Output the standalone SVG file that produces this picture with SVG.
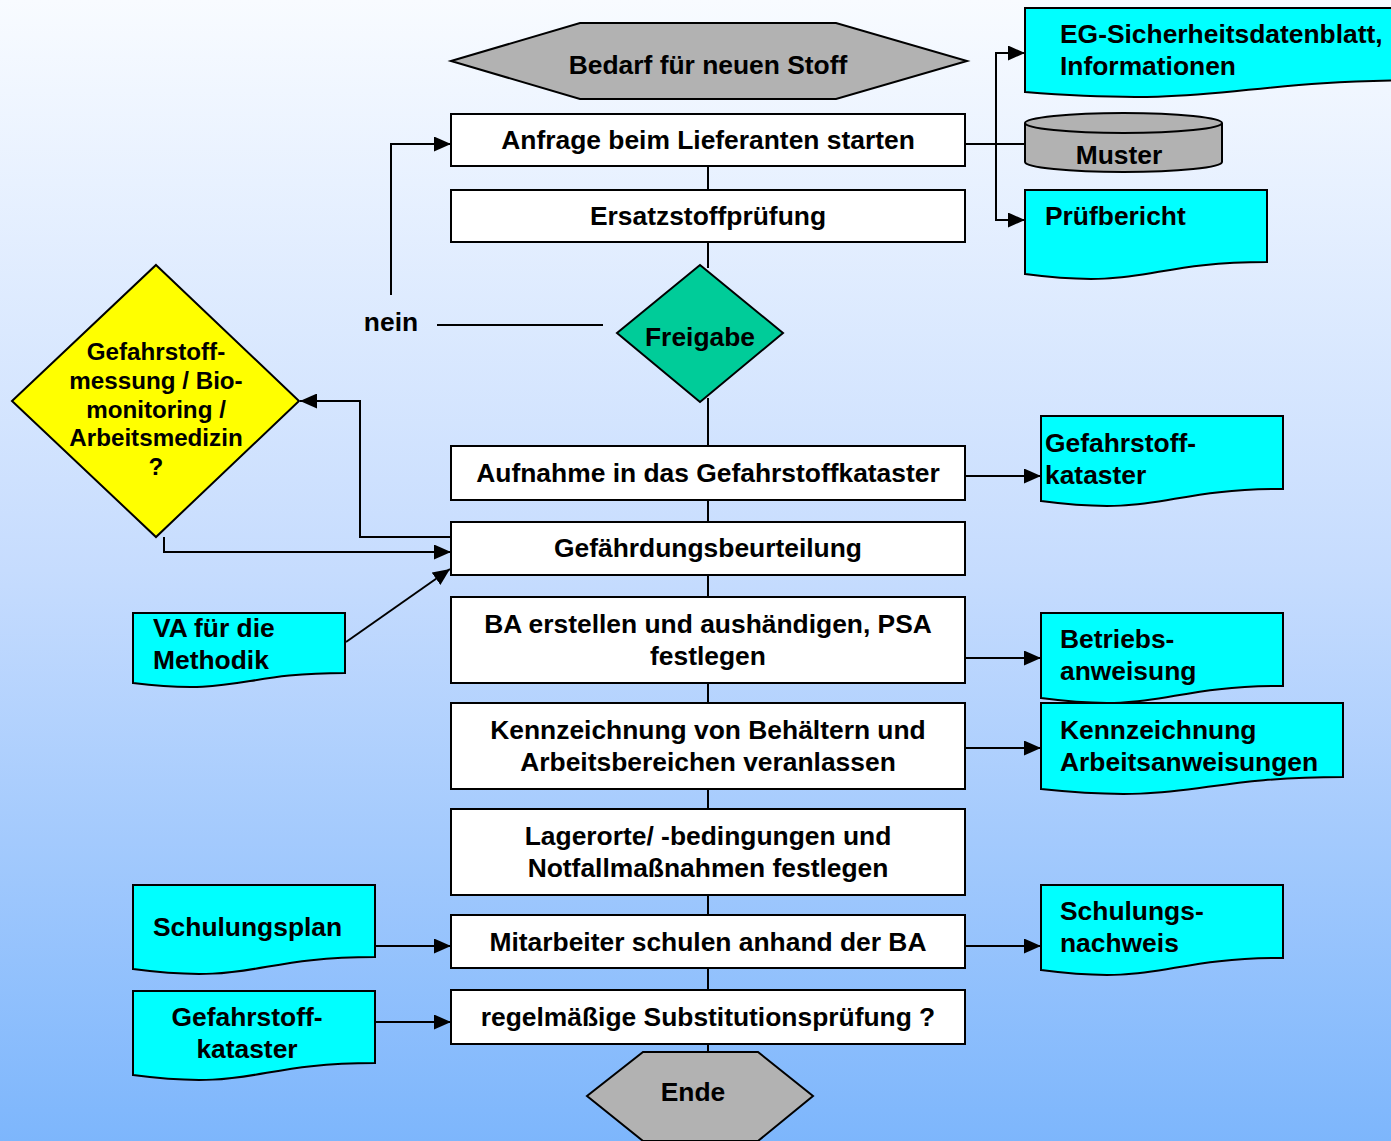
<svg xmlns="http://www.w3.org/2000/svg" width="1391" height="1141" viewBox="0 0 1391 1141">
<defs>
<linearGradient id="bg" x1="0" y1="0" x2="0" y2="1">
<stop offset="0" stop-color="#f8fbff"/>
<stop offset="0.5" stop-color="#c6dcfe"/>
<stop offset="1" stop-color="#7db6fc"/>
</linearGradient>
<marker id="arr" markerUnits="userSpaceOnUse" markerWidth="17" markerHeight="15" refX="17" refY="7.5" orient="auto">
<path d="M0,0 L17,7.5 L0,15 z" fill="#000"/>
</marker>
<style>
.box{fill:#fff;stroke:#000;stroke-width:2}
.doc{fill:#00ffff;stroke:#000;stroke-width:2}
.gray{fill:#b2b2b2;stroke:#000;stroke-width:2}
.ln{fill:none;stroke:#000;stroke-width:2}
.ar{fill:none;stroke:#000;stroke-width:2;marker-end:url(#arr)}
text{font-family:"Liberation Sans",Arial,sans-serif;font-weight:bold;font-size:26.4px;fill:#000}
.c{text-anchor:middle}
.s{font-size:24.2px}
</style>
</defs>
<rect x="0" y="0" width="1391" height="1141" fill="url(#bg)"/>

<g id="connectors">
<line class="ln" x1="708" y1="166" x2="708" y2="190"/>
<line class="ln" x1="708" y1="242" x2="708" y2="268"/>
<line class="ln" x1="708" y1="398" x2="708" y2="446"/>
<line class="ln" x1="708" y1="500" x2="708" y2="522"/>
<line class="ln" x1="708" y1="575" x2="708" y2="597"/>
<line class="ln" x1="708" y1="683" x2="708" y2="703"/>
<line class="ln" x1="708" y1="789" x2="708" y2="809"/>
<line class="ln" x1="708" y1="895" x2="708" y2="915"/>
<line class="ln" x1="708" y1="968" x2="708" y2="990"/>
<line class="ln" x1="708" y1="1044" x2="708" y2="1052"/>
<line class="ln" x1="437" y1="325" x2="603" y2="325"/>
<polyline class="ar" points="391,295 391,144 451,144"/>
<line class="ln" x1="965" y1="144" x2="1025" y2="144"/>
<polyline class="ar" points="996,144 996,53 1025,53"/>
<polyline class="ar" points="996,144 996,220 1025,220"/>
<line class="ar" x1="965" y1="476" x2="1041" y2="476"/>
<line class="ar" x1="965" y1="658" x2="1041" y2="658"/>
<line class="ar" x1="965" y1="748" x2="1041" y2="748"/>
<line class="ar" x1="965" y1="946" x2="1041" y2="946"/>
<polyline class="ar" points="451,537 360,537 360,401 300,401"/>
<polyline class="ar" points="164,537 164,552 451,552"/>
<line class="ar" x1="346" y1="642" x2="450" y2="569"/>
<line class="ar" x1="375" y1="946" x2="451" y2="946"/>
<line class="ar" x1="375" y1="1022" x2="451" y2="1022"/>
</g>

<g id="start">
<polygon class="gray" points="451,61 580,23 836,23 967,61 836,99 580,99"/>
<text class="c" x="708" y="74">Bedarf für neuen Stoff</text>
</g>
<g id="anfrage">
<rect class="box" x="451" y="114" width="514" height="52"/>
<text class="c" x="708" y="149">Anfrage beim Lieferanten starten</text>
</g>
<g id="ersatz">
<rect class="box" x="451" y="190" width="514" height="52"/>
<text class="c" x="708" y="225">Ersatzstoffprüfung</text>
</g>
<g id="freigabe">
<polygon points="700,265 783,333 700,402 617,333" fill="#00cc99" stroke="#000" stroke-width="2"/>
<text class="c" x="700" y="346">Freigabe</text>
</g>
<g id="nein">
<text class="c" x="391" y="331">nein</text>
</g>
<g id="aufnahme">
<rect class="box" x="451" y="446" width="514" height="54"/>
<text class="c" x="708" y="482">Aufnahme in das Gefahrstoffkataster</text>
</g>
<g id="gefaehrdung">
<rect class="box" x="451" y="522" width="514" height="53"/>
<text class="c" x="708" y="557">Gefährdungsbeurteilung</text>
</g>
<g id="ba">
<rect class="box" x="451" y="597" width="514" height="86"/>
<text class="c" x="708" y="633">BA erstellen und aushändigen, PSA</text>
<text class="c" x="708" y="665">festlegen</text>
</g>
<g id="kennz">
<rect class="box" x="451" y="703" width="514" height="86"/>
<text class="c" x="708" y="739">Kennzeichnung von Behältern und</text>
<text class="c" x="708" y="771">Arbeitsbereichen veranlassen</text>
</g>
<g id="lager">
<rect class="box" x="451" y="809" width="514" height="86"/>
<text class="c" x="708" y="845">Lagerorte/ -bedingungen und</text>
<text class="c" x="708" y="877">Notfallmaßnahmen festlegen</text>
</g>
<g id="schulen">
<rect class="box" x="451" y="915" width="514" height="53"/>
<text class="c" x="708" y="951">Mitarbeiter schulen anhand der BA</text>
</g>
<g id="subst">
<rect class="box" x="451" y="990" width="514" height="54"/>
<text class="c" x="708" y="1026">regelmäßige Substitutionsprüfung ?</text>
</g>
<g id="ende">
<polygon class="gray" points="643,1052 758,1052 813,1096 758,1141 643,1141 587,1096"/>
<text class="c" x="693" y="1101">Ende</text>
</g>

<g id="eg">
<path class="doc" d="M1025,8 H1430 V80 C1227,80 1227,108 1025,92 Z"/>
<text x="1060" y="43">EG-Sicherheitsdatenblatt,</text>
<text x="1060" y="75">Informationen</text>
</g>
<g id="muster">
<path class="gray" d="M1025,123 V162 A98.5,10 0 0 0 1222,162 V123"/>
<ellipse class="gray" cx="1123.5" cy="123" rx="98.5" ry="10"/>
<text class="c" x="1119" y="164">Muster</text>
</g>
<g id="pruef">
<path class="doc" d="M1025,190 H1267 V262 C1146,262 1146,290 1025,274 Z"/>
<text x="1045" y="225">Prüfbericht</text>
</g>
<g id="kataster-r">
<path class="doc" d="M1041,416 H1283 V489 C1162,489 1162,517 1041,501 Z"/>
<text x="1045" y="452">Gefahrstoff-</text>
<text x="1045" y="484">kataster</text>
</g>
<g id="betriebs">
<path class="doc" d="M1041,613 H1283 V686 C1162,686 1162,714 1041,698 Z"/>
<text x="1060" y="648">Betriebs-</text>
<text x="1060" y="680">anweisung</text>
</g>
<g id="kennz-doc">
<path class="doc" d="M1041,703 H1343 V777 C1192,777 1192,805 1041,789 Z"/>
<text x="1060" y="739">Kennzeichnung</text>
<text x="1060" y="771">Arbeitsanweisungen</text>
</g>
<g id="nachweis">
<path class="doc" d="M1041,885 H1283 V958 C1162,958 1162,986 1041,970 Z"/>
<text x="1060" y="920">Schulungs-</text>
<text x="1060" y="952">nachweis</text>
</g>

<g id="messung">
<polygon points="156,265 299,401 156,537 12,401" fill="#ffff00" stroke="#000" stroke-width="2"/>
<text class="c s" x="156" y="360">Gefahrstoff-</text>
<text class="c s" x="156" y="389">messung / Bio-</text>
<text class="c s" x="156" y="418">monitoring /</text>
<text class="c s" x="156" y="446">Arbeitsmedizin</text>
<text class="c s" x="156" y="475">?</text>
</g>
<g id="va">
<path class="doc" d="M133,613 H345 V673 C239,673 239,696 133,683 Z"/>
<text x="153" y="637">VA für die</text>
<text x="153" y="669">Methodik</text>
</g>
<g id="schulungsplan">
<path class="doc" d="M133,885 H375 V957 C254,957 254,985 133,969 Z"/>
<text x="153" y="936">Schulungsplan</text>
</g>
<g id="kataster-l">
<path class="doc" d="M133,991 H375 V1063 C254,1063 254,1091 133,1075 Z"/>
<text class="c" x="247" y="1026">Gefahrstoff-</text>
<text class="c" x="247" y="1058">kataster</text>
</g>
</svg>
